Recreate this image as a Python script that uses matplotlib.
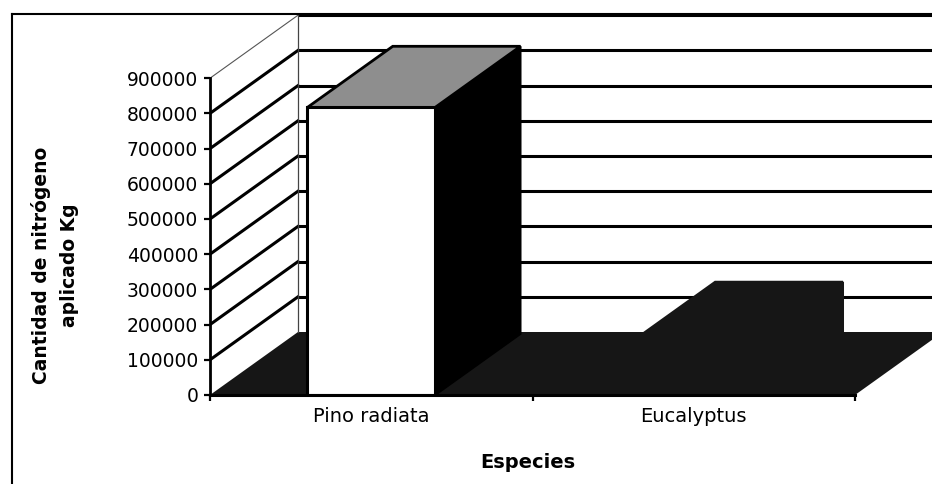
import matplotlib
matplotlib.use("Agg")
import matplotlib.pyplot as plt
from matplotlib.patches import Polygon
from matplotlib.lines import Line2D

# values
species = ["Pino radiata", "Eucalyptus"]
nitrogen_kg = [817000, 147000]
y_ticks = [0, 100000, 200000, 300000, 400000, 500000, 600000, 700000, 800000, 900000]
x_title = "Especies"
y_title = "Cantidad de nitrógeno\naplicado Kg"

W, H = 932, 484
X0, Y0 = 210, 395          # front origin, pixels
CAT_PX = 322.5             # pixels per category
VAL_PX = 35.2 / 100000     # pixels per kg

fig = plt.figure(figsize=(W / 100, H / 100), dpi=100)
ax = fig.add_axes([X0 / W, (H - Y0) / H, (W - X0) / W, Y0 / H])
ax.set_xlim(0, (W - X0) / CAT_PX)
ax.set_ylim(0, Y0 / VAL_PX)

# oblique depth offset (back wall vs front plane)
DX = 88 / CAT_PX
DY = 63 / VAL_PX


def proj(x, v, d):
    return (x + d * DX, v + d * DY)


n_cat = len(species)
xmax = ax.get_xlim()[1]
dark = "#161616"

# floor
floor = Polygon([proj(0, 0, 0), proj(n_cat, 0, 0), proj(n_cat, 0, 1), proj(0, 0, 1)],
                closed=True, fc=dark, ec="none", zorder=1)
ax.add_patch(floor)

# back wall gridlines + side wall lines
for t in y_ticks[1:]:
    bx, by = proj(0, t, 1)
    ax.plot([bx, xmax], [by, by], color="black", lw=2.2, zorder=2, solid_capstyle="butt")
    lw = 2.2 if t < y_ticks[-1] else 0.8
    col = "black" if t < y_ticks[-1] else "#555555"
    ax.plot([0, bx], [t, by], color=col, lw=lw, zorder=2)
bx0, by0 = proj(0, 0, 1)
bx1, by1 = proj(0, y_ticks[-1], 1)
ax.plot([bx0, bx1], [by0, by1], color="#444444", lw=0.9, zorder=2)

# 3d-looking bars: (front, side, top, edge)
half = 0.198
d0, d1 = 0.0, 0.97
styles = [("white", "black", "#8e8e8e", "black"), (dark, dark, dark, dark)]
for i, v in enumerate(nitrogen_kg):
    c = i + 0.5
    front_c, side_c, top_c, edge_c = styles[i]
    xl, xr = c - half, c + half
    side = Polygon([proj(xr, 0, d0), proj(xr, 0, d1), proj(xr, v, d1), proj(xr, v, d0)],
                   closed=True, fc=side_c, ec=edge_c, lw=1.5, zorder=3)
    top = Polygon([proj(xl, v, d0), proj(xr, v, d0), proj(xr, v, d1), proj(xl, v, d1)],
                  closed=True, fc=top_c, ec=edge_c, lw=2, zorder=3)
    front = Polygon([proj(xl, 0, d0), proj(xr, 0, d0), proj(xr, v, d0), proj(xl, v, d0)],
                    closed=True, fc=front_c, ec=edge_c, lw=2.2, zorder=4)
    ax.add_patch(side)
    ax.add_patch(top)
    ax.add_patch(front)

# axes
for s in ["top", "right"]:
    ax.spines[s].set_visible(False)
ax.spines["left"].set_bounds(0, y_ticks[-1])
ax.spines["bottom"].set_bounds(0, n_cat)
ax.spines["left"].set_linewidth(2)
ax.spines["bottom"].set_linewidth(2.2)
ax.spines["left"].set_zorder(5)
ax.spines["bottom"].set_zorder(5)

ax.set_yticks(y_ticks)
ax.set_yticklabels([str(t) for t in y_ticks])
ax.tick_params(axis="y", direction="out", length=4.5, width=1.6, labelsize=13.5, pad=4)

ax.set_xticks(range(n_cat + 1))
ax.set_xticklabels([""] * (n_cat + 1))
ax.set_xticks([i + 0.5 for i in range(n_cat)], minor=True)
ax.set_xticklabels(species, minor=True)
ax.tick_params(axis="x", which="major", direction="out", length=4.5, width=1.6)
ax.tick_params(axis="x", which="minor", length=0, labelsize=14, pad=9)

fig.text(528 / W, 1 - 463 / H, x_title, ha="center", va="center",
         fontsize=14, fontweight="bold")
fig.text(55 / W, 1 - 265 / H, y_title, ha="center", va="center", rotation=90,
         fontsize=13.5, fontweight="bold", linespacing=1.6, multialignment="center")

# outer chart frame (cut off at the right and bottom of the scan)
fig.add_artist(Line2D([12 / W, 12 / W], [0, 1 - 14 / H], transform=fig.transFigure,
                      color="black", lw=1.5))
fig.add_artist(Line2D([12 / W, 1], [1 - 14 / H, 1 - 14 / H], transform=fig.transFigure,
                      color="black", lw=1.5))

fig.savefig("out.png", dpi=100)
